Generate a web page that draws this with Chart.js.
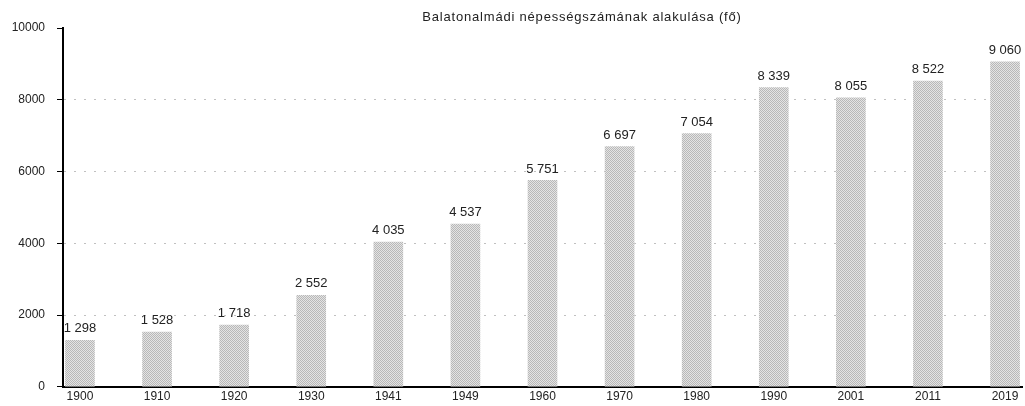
<!DOCTYPE html>
<html>
<head>
<meta charset="utf-8">
<script src="https://cdn.jsdelivr.net/npm/chart.js@4/dist/chart.umd.min.js"></script>
<style>
  html, body { margin: 0; padding: 0; background: #fff; }
  #wrap { width: 1025px; height: 406px; }
</style>
</head>
<body>
<div id="wrap"><canvas id="chart"></canvas></div>
<script>
const years = ['1900', '1910', '1920', '1930', '1941', '1949', '1960', '1970', '1980', '1990', '2001', '2011', '2019'];
const population = [1298, 1528, 1718, 2552, 4035, 4537, 5751, 6697, 7054, 8339, 8055, 8522, 9060];
const yTicks = [0, 2000, 4000, 6000, 8000, 10000];
const titleText = 'Balatonalmádi népességszámának alakulása (fő)';

const FONT = "'Liberation Sans', Arial, sans-serif";

// light grey dither-like fill for the bars
function barPattern() {
  const c = document.createElement('canvas');
  c.width = 2; c.height = 2;
  const g = c.getContext('2d');
  g.fillStyle = '#e4e4e4'; g.fillRect(0, 0, 2, 2);
  g.fillStyle = '#b8b8b8'; g.fillRect(0, 0, 1, 1); g.fillRect(1, 1, 1, 1);
  return g.createPattern(c, 'repeat');
}

// value labels above bars, "1 298" style
const valueLabels = {
  id: 'valueLabels',
  afterDatasetsDraw(chart) {
    const ctx = chart.ctx;
    const meta = chart.getDatasetMeta(0);
    ctx.save();
    ctx.font = '13px ' + FONT;
    ctx.fillStyle = '#222';
    ctx.textAlign = 'center';
    ctx.textBaseline = 'bottom';
    meta.data.forEach((bar, i) => {
      const txt = String(population[i]).replace(/\B(?=(\d{3})+(?!\d))/g, ' ');
      ctx.fillText(txt, bar.x, bar.y - 5);
    });
    ctx.restore();
  }
};

// title sits a bit right of centre in the original
const topTitle = {
  id: 'topTitle',
  afterDraw(chart) {
    const ctx = chart.ctx;
    ctx.save();
    ctx.font = '13px ' + FONT;
    ctx.letterSpacing = '0.8px';
    ctx.fillStyle = '#222';
    ctx.textAlign = 'center';
    ctx.textBaseline = 'middle';
    ctx.fillText(titleText, 582, 17);
    ctx.restore();
  }
};

new Chart(document.getElementById('chart'), {
  type: 'bar',
  data: {
    datasets: [{
      data: population.map((v, i) => ({ x: i, y: v })),
      backgroundColor: barPattern(),
      borderWidth: 0,
      barThickness: 29
    }]
  },
  options: {
    responsive: true,
    maintainAspectRatio: false,
    animation: false,
    layout: { padding: { left: 0, right: 3, top: 28, bottom: 0 } },
    plugins: {
      legend: { display: false },
      tooltip: { enabled: false },
      title: { display: false }
    },
    scales: {
      x: {
        type: 'linear',
        offset: false,
        min: -0.22,
        max: 12.22,
        afterBuildTicks: s => { s.ticks = years.map((_, i) => ({ value: i })); },
        afterFit: s => { s.height = 17; },
        grid: { display: false, drawTicks: false, offset: false },
        border: { display: true, color: '#000', width: 2 },
        ticks: {
          autoSkip: false,
          maxRotation: 0,
          padding: 3,
          color: '#222',
          font: { family: FONT, size: 12 },
          callback: v => years[v]
        }
      },
      y: {
        min: 0,
        max: 10000,
        afterBuildTicks: s => { s.ticks = yTicks.map(v => ({ value: v })); },
        afterFit: s => { s.width = 63; },
        grid: {
          color: ctx => (ctx.tick && (ctx.tick.value === 0 || ctx.tick.value === 10000)) ? 'rgba(0,0,0,0)' : '#c0c0c0',
          tickColor: '#000',
          tickLength: 6,
          lineWidth: 1
        },
        border: { display: true, color: '#000', width: 2, dash: [2, 8] },
        ticks: {
          padding: 12,
          color: '#222',
          font: { family: FONT, size: 12 },
          callback: v => String(v)
        }
      }
    }
  },
  plugins: [valueLabels, topTitle]
});
</script>
</body>
</html>
